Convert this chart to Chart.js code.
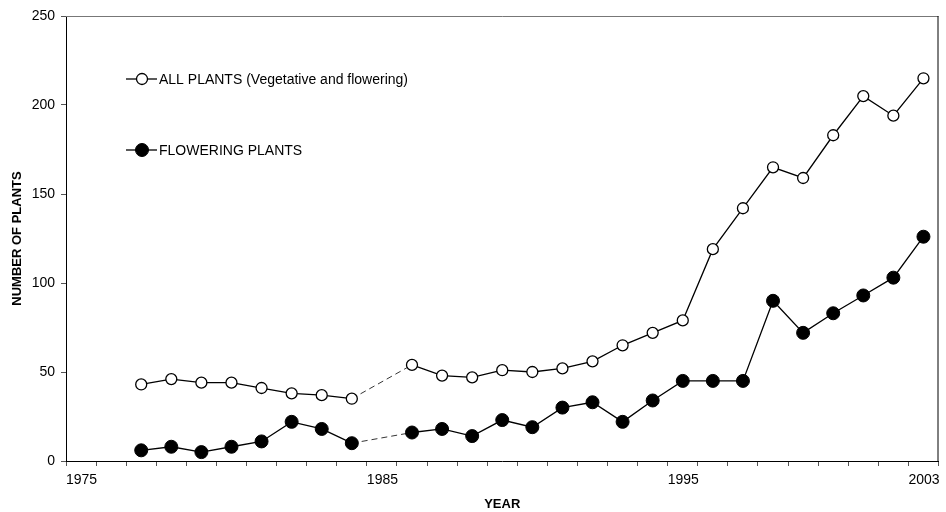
<!DOCTYPE html>
<html>
<head>
<meta charset="utf-8">
<title>Number of plants by year</title>
<script src="https://cdn.jsdelivr.net/npm/chart.js@4/dist/chart.umd.min.js"></script>
<style>
  html, body { margin: 0; padding: 0; background: #ffffff; }
  #c { display: block; }
</style>
</head>
<body>
<canvas id="c" width="946" height="512"></canvas>
<script>
// Survey years (no census in 1985)
const years = [1977, 1978, 1979, 1980, 1981, 1982, 1983, 1984,
               1986, 1987, 1988, 1989, 1990, 1991, 1992, 1993, 1994,
               1995, 1996, 1997, 1998, 1999, 2000, 2001, 2002, 2003];

// All plants (vegetative and flowering)
const allPlants = [43, 46, 44, 44, 41, 38, 37, 35,
                   54, 48, 47, 51, 50, 52, 56, 65, 72,
                   79, 119, 142, 165, 159, 183, 205, 194, 215];

// Flowering plants only
const floweringPlants = [6, 8, 5, 8, 11, 22, 18, 10,
                         16, 18, 14, 23, 19, 30, 33, 22, 34,
                         45, 45, 45, 90, 72, 83, 93, 103, 126];

const yearLabels = [1975, 1985, 1995, 2003];
const yTicks = [0, 50, 100, 150, 200, 250];

const seriesNames = ['ALL PLANTS (Vegetative and flowering)', 'FLOWERING PLANTS'];

const FONT = '"Liberation Sans", Arial, Helvetica, sans-serif';

const toPoints = vals => years.map((yr, i) => ({ x: yr, y: vals[i] }));

// a gap of more than one year is bridged with a thin dashed segment
const gapDash = ctx => (ctx.p1.parsed.x - ctx.p0.parsed.x > 1.5 ? [6, 4] : undefined);
const gapWidth = ctx => (ctx.p1.parsed.x - ctx.p0.parsed.x > 1.5 ? 0.8 : undefined);

// Inline legend in the upper-left of the plot area
const inlineLegend = {
  id: 'inlineLegend',
  afterDatasetsDraw(chart) {
    const ctx = chart.ctx;
    const rows = [79, 150];
    chart.data.datasets.forEach((ds, i) => {
      const y = rows[i];
      ctx.save();
      ctx.strokeStyle = '#000';
      ctx.lineWidth = 1.3;
      ctx.beginPath();
      ctx.moveTo(126, y);
      ctx.lineTo(157, y);
      ctx.stroke();
      ctx.beginPath();
      ctx.arc(142, y, ds.pointRadius, 0, Math.PI * 2);
      ctx.fillStyle = ds.pointBackgroundColor;
      ctx.fill();
      ctx.lineWidth = ds.pointBorderWidth;
      ctx.stroke();
      ctx.fillStyle = '#000';
      ctx.font = '14px ' + FONT;
      ctx.textAlign = 'left';
      ctx.textBaseline = 'middle';
      ctx.fillText(ds.label, 159, y + 1);
      ctx.restore();
    });
  }
};

// Top and right frame lines
const frame = {
  id: 'frame',
  beforeDatasetsDraw(chart) {
    const { ctx, chartArea: a } = chart;
    ctx.save();
    ctx.lineWidth = 1;
    ctx.strokeStyle = '#777';
    ctx.beginPath();
    ctx.moveTo(a.left, a.top + 0.5);
    ctx.lineTo(a.right, a.top + 0.5);
    ctx.stroke();
    ctx.strokeStyle = '#000';
    ctx.beginPath();
    ctx.moveTo(a.right - 0.5, a.top);
    ctx.lineTo(a.right - 0.5, a.bottom);
    ctx.stroke();
    ctx.restore();
  }
};

new Chart(document.getElementById('c'), {
  type: 'line',
  data: {
    datasets: [
      {
        label: seriesNames[0],
        data: toPoints(allPlants),
        borderColor: '#000',
        borderWidth: 1.3,
        pointRadius: 5.5,
        pointBorderWidth: 1.3,
        pointBackgroundColor: '#fff',
        pointBorderColor: '#000',
        tension: 0,
        segment: { borderDash: gapDash, borderWidth: gapWidth }
      },
      {
        label: seriesNames[1],
        data: toPoints(floweringPlants),
        borderColor: '#000',
        borderWidth: 1.3,
        pointRadius: 6.5,
        pointBorderWidth: 1,
        pointBackgroundColor: '#000',
        pointBorderColor: '#000',
        tension: 0,
        segment: { borderDash: gapDash, borderWidth: gapWidth }
      }
    ]
  },
  options: {
    responsive: false,
    animation: false,
    devicePixelRatio: 1,
    layout: { padding: { top: 16, right: 2, left: 0, bottom: 0 } },
    plugins: {
      legend: { display: false },
      tooltip: { enabled: false }
    },
    scales: {
      x: {
        type: 'linear',
        min: 1974.5,
        max: 2003.5,
        afterBuildTicks(scale) {
          const t = [];
          for (let v = 1974.5; v <= 2003.5; v += 1) t.push({ value: v });
          scale.ticks = t;
        },
        afterFit(scale) { scale.height = 51; },
        ticks: {
          autoSkip: false,
          maxRotation: 0,
          minRotation: 0,
          align: 'start',
          padding: 6,
          color: '#000',
          font: { family: FONT, size: 14 },
          callback(v) {
            const yr = v + 0.5;
            return yearLabels.includes(yr) ? String(yr) : '';
          }
        },
        grid: { drawOnChartArea: false, drawTicks: true, tickLength: 5, tickColor: '#555', lineWidth: 1 },
        border: { display: true, color: '#000', width: 1 },
        title: {
          display: true,
          text: 'YEAR',
          color: '#000',
          font: { family: FONT, size: 13, weight: 'bold' },
          padding: { top: 0, bottom: 0 }
        }
      },
      y: {
        min: 0,
        max: 250,
        afterBuildTicks(scale) { scale.ticks = yTicks.map(v => ({ value: v })); },
        afterFit(scale) { scale.width = 66; },
        ticks: {
          padding: 6,
          color: '#000',
          font: { family: FONT, size: 14 }
        },
        grid: { drawOnChartArea: false, drawTicks: true, tickLength: 5, tickColor: '#555', lineWidth: 1 },
        border: { display: true, color: '#000', width: 1 },
        title: {
          display: true,
          text: 'NUMBER OF PLANTS',
          color: '#000',
          font: { family: FONT, size: 13, weight: 'bold' },
          padding: { top: 10, bottom: 0 }
        }
      }
    }
  },
  plugins: [frame, inlineLegend]
});
</script>
</body>
</html>
